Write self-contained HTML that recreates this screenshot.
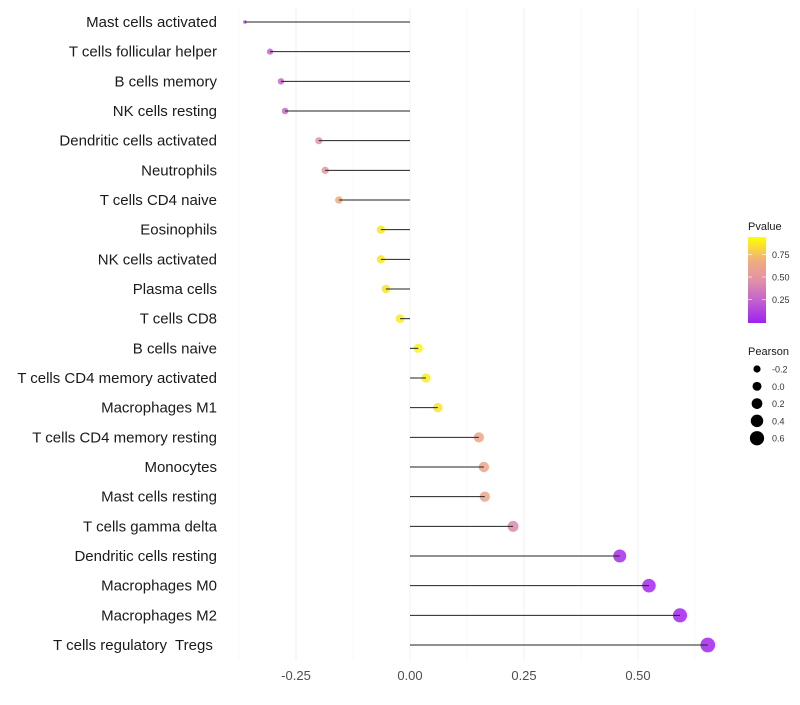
<!DOCTYPE html>
<html><head><meta charset="utf-8"><style>
body{margin:0;background:#fff;font-family:"Liberation Sans",sans-serif}
</style></head><body>
<svg id="chart" width="800" height="700" xmlns="http://www.w3.org/2000/svg">
<defs><linearGradient id="pg" x1="0" y1="1" x2="0" y2="0">
<stop offset="0" stop-color="#a020f0"/><stop offset="0.25" stop-color="#c060d0"/><stop offset="0.5" stop-color="#e292a6"/><stop offset="0.72" stop-color="#f0ac80"/><stop offset="1" stop-color="#ffff00"/></linearGradient></defs>
<g id="grid"></g><g id="marks"></g><g id="stems"></g><g id="labels"></g><g id="legend"></g>
</svg>
<script>
const categories=["Mast cells activated","T cells follicular helper","B cells memory","NK cells resting","Dendritic cells activated","Neutrophils","T cells CD4 naive","Eosinophils","NK cells activated","Plasma cells","T cells CD8","B cells naive","T cells CD4 memory activated","Macrophages M1","T cells CD4 memory resting","Monocytes","Mast cells resting","T cells gamma delta","Dendritic cells resting","Macrophages M0","Macrophages M2","T cells regulatory  Tregs "];
const pearson=[-0.362,-0.307,-0.283,-0.274,-0.20,-0.186,-0.156,-0.064,-0.064,-0.053,-0.022,0.018,0.035,0.061,0.151,0.162,0.164,0.226,0.46,0.524,0.592,0.653];
const pvalue=[0.15,0.28,0.3,0.3,0.52,0.54,0.7,0.95,0.95,0.93,0.97,0.99,0.97,0.93,0.66,0.66,0.66,0.45,0.05,0.03,0.02,0.02];
const xTicks=[-0.25,0,0.25,0.5];
const xTickLabels=["-0.25","0.00","0.25","0.50"];
const minorTicks=[-0.375,-0.125,0.125,0.375,0.625];
const sizeLegend=[-0.2,0,0.2,0.4,0.6];
const pTicks=[0.25,0.5,0.75];

const NS="http://www.w3.org/2000/svg";
const X=v=>410+v*456;
const Y=i=>22+i*29.667;
const R=v=>v<-0.34?1.8:Math.max(2.5,3.6+(v+0.2)*4.4);
const stops=[[0,[160,32,240]],[0.25,[192,96,208]],[0.5,[226,146,166]],[0.72,[240,172,128]],[1,[250,245,20]]];
function col(p){for(let k=1;k<stops.length;k++){if(p<=stops[k][0]){const a=stops[k-1],b=stops[k];const t=(p-a[0])/(b[0]-a[0]);
 return `rgb(${a[1].map((x,i)=>Math.round(x+(b[1][i]-x)*t))})`;}}return 'rgb(250,245,20)';}
function mk(tag,attrs,parent,text){const e=document.createElementNS(NS,tag);for(const k in attrs)e.setAttribute(k,attrs[k]);if(text!==undefined)e.textContent=text;document.getElementById(parent).appendChild(e);return e;}

minorTicks.forEach(t=>{const e=mk('line',{x1:X(t),x2:X(t),y1:8,y2:660,stroke:'#f6f6f6','stroke-width':0.6},'grid');

});
xTicks.forEach((t,i)=>{const e=mk('line',{x1:X(t),x2:X(t),y1:8,y2:660,stroke:'#efefef','stroke-width':0.8},'grid');


const l=mk('text',{x:X(t),y:680,'text-anchor':'middle','font-size':13,fill:'#4d4d4d'},'labels',xTickLabels[i]);

});

categories.forEach((c,i)=>{
 const l=mk('text',{x:217,y:Y(i)+5,'text-anchor':'end','font-size':15,fill:'#1a1a1a','xml:space':'preserve'},'labels',c);
 l.style.whiteSpace='pre';
 
 
 const p=mk('circle',{cx:X(pearson[i]),cy:Y(i),r:R(pearson[i]),fill:col(pvalue[i]),'fill-opacity':0.85},'marks');
 
 
 const s=mk('line',{x1:X(0),x2:X(pearson[i]),y1:Y(i),y2:Y(i),stroke:'#222','stroke-width':1},'stems');
 
 
});

let t=mk('text',{x:748,y:230,'font-size':11,fill:'#1a1a1a'},'legend','Pvalue');


let r=mk('rect',{x:748,y:237,width:18,height:86,fill:'url(#pg)'},'legend');


const PY=p=>322-p*90;
pTicks.forEach(p=>{const e=mk('text',{x:772,y:PY(p)+3.5,'font-size':9,fill:'#333'},'legend',p.toFixed(2));


mk('line',{x1:748,x2:752,y1:PY(p),y2:PY(p),stroke:'#fff','stroke-opacity':0.6},'legend');
mk('line',{x1:762,x2:766,y1:PY(p),y2:PY(p),stroke:'#fff','stroke-opacity':0.6},'legend');});

t=mk('text',{x:748,y:355,'font-size':11,fill:'#1a1a1a'},'legend','Pearson');


sizeLegend.forEach((v,i)=>{const y=369+i*17.3;
const c=mk('circle',{cx:757,cy:y,r:R(v),fill:'#000'},'legend');


const e=mk('text',{x:772,y:y+3.5,'font-size':9,fill:'#333'},'legend',v.toFixed(1));

});
</script>
</body></html>
